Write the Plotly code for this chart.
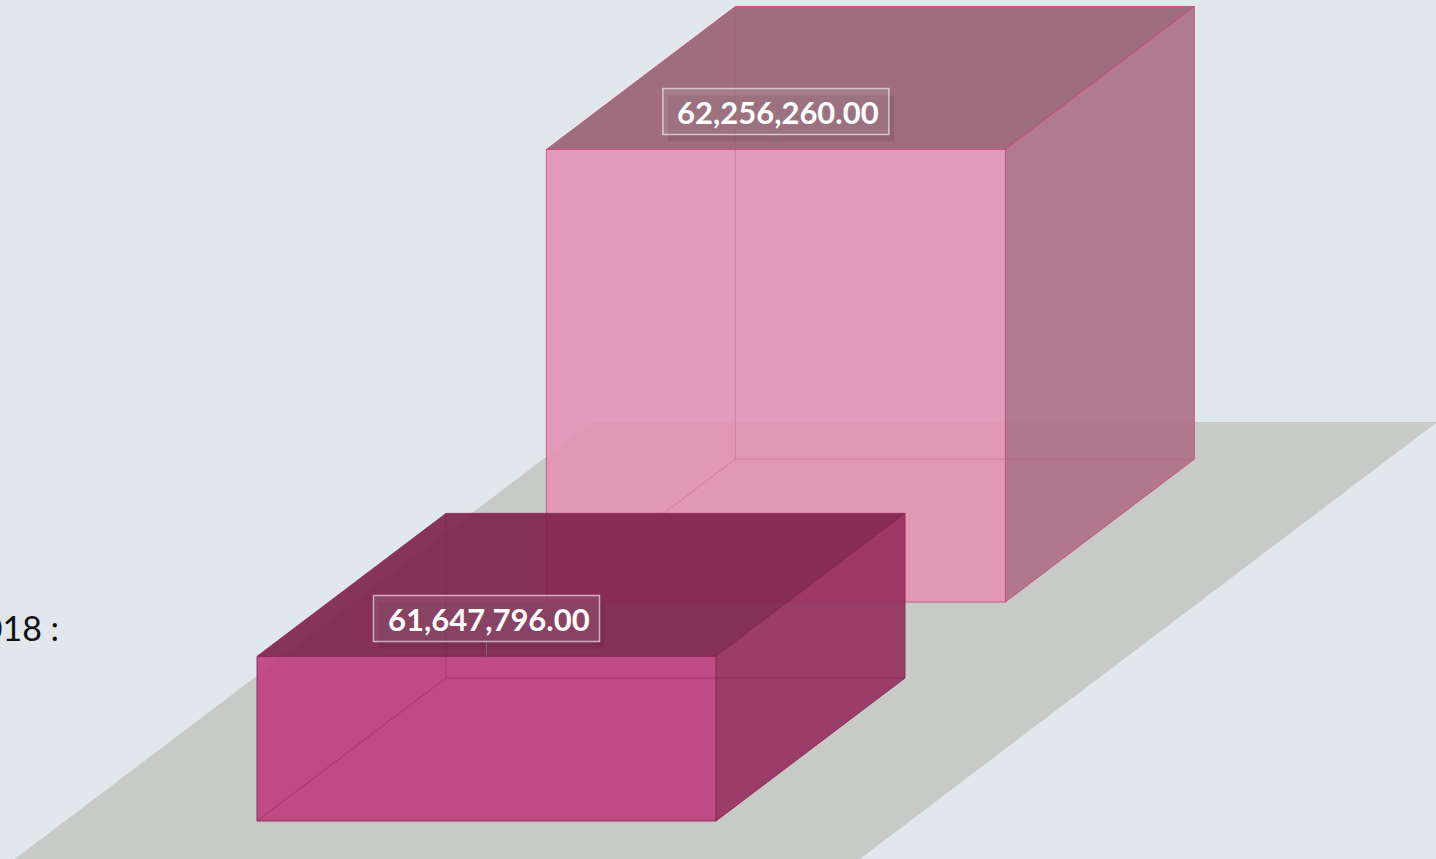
import plotly.graph_objects as go

# ---------------- data ----------------
category_label = "2018 :"
series_values = [61647796.00, 62256260.00]          # front column, back column
value_labels = ["{:,.2f}".format(v) for v in series_values]

# ---------------- layout constants ----------------
W, H = 1436, 859
BG = "#E0E8EB"
FLOOR = "rgba(200,202,200,1)"

VMIN, VMAX = 61_300_000, 62_300_000     # value axis range
VAL_PX = 473.3                          # pixel height of value axis span
K = VAL_PX / (VMAX - VMIN)

GROUND_Y = 38          # ground line of front row (y-up pixels)
DX, DY = 189, 143      # oblique depth vector per depth unit
COL_X0, COL_W = 257, 459
Z_STEP = 1.531         # spacing of series in depth
COL_DEPTH = 1.0

styles = [
    dict(front="rgba(191,60,124,0.9)", top="rgba(125,32,74,0.9)", side="rgba(150,46,94,0.9)",
         edge="rgba(140,40,85,0.9)", hidden="rgba(110,30,70,0.35)"),
    dict(front="rgba(226,146,178,0.9)", top="rgba(151,96,114,0.9)", side="rgba(173,110,134,0.9)",
         edge="rgba(200,75,120,0.85)", hidden="rgba(190,80,120,0.35)"),
]


def P(x, z, v):
    return x + z * DX, GROUND_Y + z * DY + (v - VMIN) * K


fig = go.Figure()


def poly(pts, fill, line=None, width=1):
    xs = [p[0] for p in pts] + [pts[0][0]]
    ys = [p[1] for p in pts] + [pts[0][1]]
    fig.add_trace(go.Scatter(x=xs, y=ys, mode="lines", fill="toself", fillcolor=fill,
                             line=dict(color=line or "rgba(0,0,0,0)", width=width if line else 0),
                             hoverinfo="skip", showlegend=False))


def seg(a, b, color, width=1):
    fig.add_trace(go.Scatter(x=[a[0], b[0]], y=[a[1], b[1]], mode="lines",
                             line=dict(color=color, width=width), hoverinfo="skip", showlegend=False))


# floor
floor_x0, floor_x1 = 65, 910
floor_z0, floor_z1 = -0.6, 2.79
poly([P(floor_x0, floor_z0, VMIN), P(floor_x1, floor_z0, VMIN),
      P(floor_x1, floor_z1, VMIN), P(floor_x0, floor_z1, VMIN)], FLOOR)

annotations = []
shapes = []

# draw back column first
order = sorted(range(len(series_values)), key=lambda i: -i)
for i in order:
    v = series_values[i]
    st = styles[i]
    zf = i * Z_STEP
    zb = zf + COL_DEPTH
    x0, x1 = COL_X0, COL_X0 + COL_W
    FLb, FRb, FRt, FLt = P(x0, zf, VMIN), P(x1, zf, VMIN), P(x1, zf, v), P(x0, zf, v)
    BLb, BRb, BRt, BLt = P(x0, zb, VMIN), P(x1, zb, VMIN), P(x1, zb, v), P(x0, zb, v)
    poly([FLt, FRt, BRt, BLt], st["top"], st["edge"])
    poly([FRb, BRb, BRt, FRt], st["side"], st["edge"])
    poly([FLb, FRb, FRt, FLt], st["front"], st["edge"])
    # hidden edges seen through translucent faces
    seg(BLb, BRb, st["hidden"])
    seg(BLb, BLt, st["hidden"])
    seg(BLb, FLb, st["hidden"])

    # value label
    cx = (FLt[0] + FRt[0]) / 2
    cy = FLt[1] + 38
    bw, bh = 226, 46
    shapes.append(dict(type="rect", xref="x", yref="y", x0=cx - bw / 2 + 5, x1=cx + bw / 2 + 5,
                       y0=cy - bh / 2 - 7, y1=cy + bh / 2 - 7, line=dict(width=0),
                       fillcolor="rgba(60,20,40,0.12)", layer="above"))
    shapes.append(dict(type="line", xref="x", yref="y", x0=cx, x1=cx, y0=cy - bh / 2, y1=FLt[1],
                       line=dict(color="rgba(120,120,120,0.8)", width=1), layer="above"))
    shapes.append(dict(type="rect", xref="x", yref="y", x0=cx - bw / 2, x1=cx + bw / 2,
                       y0=cy - bh / 2, y1=cy + bh / 2,
                       line=dict(color="rgba(255,255,255,0.6)", width=1.5),
                       fillcolor="rgba(255,255,255,0.10)", layer="above"))
    annotations.append(dict(x=cx + 2, y=cy - 1, xref="x", yref="y", text="<b>" + value_labels[i] + "</b>",
                            showarrow=False, font=dict(family="Lato", size=31, color="white"),
                            xanchor="center", yanchor="middle"))

# category label (partly cut off at left edge, as in the original)
annotations.append(dict(x=61, y=H - 627, xref="x", yref="y", text=category_label, showarrow=False,
                        xanchor="right", yanchor="middle",
                        font=dict(family="Lato", size=34, color="#111111")))

fig.update_layout(
    width=W, height=H, margin=dict(l=0, r=0, t=0, b=0),
    paper_bgcolor=BG, plot_bgcolor=BG,
    xaxis=dict(range=[0, W], visible=False, fixedrange=True),
    yaxis=dict(range=[0, H], visible=False, fixedrange=True),
    shapes=shapes, annotations=annotations, showlegend=False,
)

fig.write_html("out.html", config={"displayModeBar": False})
